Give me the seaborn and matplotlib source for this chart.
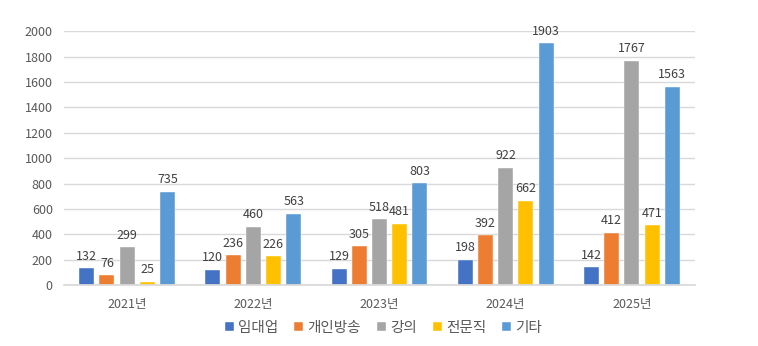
import matplotlib
matplotlib.use("Agg")
import matplotlib.pyplot as plt
import seaborn as sns
import pandas as pd

years = ["2021년", "2022년", "2023년", "2024년", "2025년"]
series = ["임대업", "개인방송", "강의", "전문직", "기타"]
rental = [132, 120, 129, 198, 142]
broadcast = [76, 236, 305, 392, 412]
lecture = [299, 460, 518, 922, 1767]
professional = [25, 226, 481, 662, 471]
other = [735, 563, 803, 1903, 1563]
colors = ["#4472C4", "#ED7D31", "#A5A5A5", "#FFC000", "#5B9BD5"]
yticks = list(range(0, 2001, 200))

values = [rental, broadcast, lecture, professional, other]
df = pd.DataFrame(
    [(y, s, v[i]) for s, v in zip(series, values) for i, y in enumerate(years)],
    columns=["year", "type", "count"],
)

sns.set_theme(style="white")
plt.rcParams["font.family"] = ["Noto Sans CJK KR", "DejaVu Sans"]

fig = plt.figure(figsize=(7.58, 3.46), dpi=100)
ax = fig.add_axes([0.0844, 0.176, 0.8325, 0.734])

sns.barplot(
    data=df, x="year", y="count", hue="type", order=years, hue_order=series,
    palette=colors, width=0.8, gap=0.25, ax=ax, legend=True, saturation=1,
    edgecolor="white", linewidth=0.3,
)

for container in ax.containers:
    ax.bar_label(container, fmt="%d", padding=4, fontsize=9, color="#404040")

ax.set_ylim(0, 2000)
ax.set_yticks(yticks)
ax.set_xlim(-0.5, len(years) - 0.5)
ax.yaxis.grid(True, color="#D9D9D9", linewidth=1)
ax.set_axisbelow(True)
for side in ["top", "right", "left"]:
    ax.spines[side].set_visible(False)
ax.spines["bottom"].set_color("#D9D9D9")
ax.tick_params(axis="both", length=0, labelsize=9, labelcolor="#595959")
ax.tick_params(axis="y", pad=8)
ax.tick_params(axis="x", pad=9)
ax.set_xlabel("")
ax.set_ylabel("")

handles, labels = ax.get_legend_handles_labels()
ax.legend_.remove()
fig.legend(
    handles, labels, loc="center", bbox_to_anchor=(0.506, 0.052), ncol=5,
    frameon=False, fontsize=10.5, handlelength=0.6, handleheight=0.6,
    handletextpad=0.3, columnspacing=1.1, labelcolor="#595959",
)

fig.savefig("out.png", dpi=100, facecolor="white")
